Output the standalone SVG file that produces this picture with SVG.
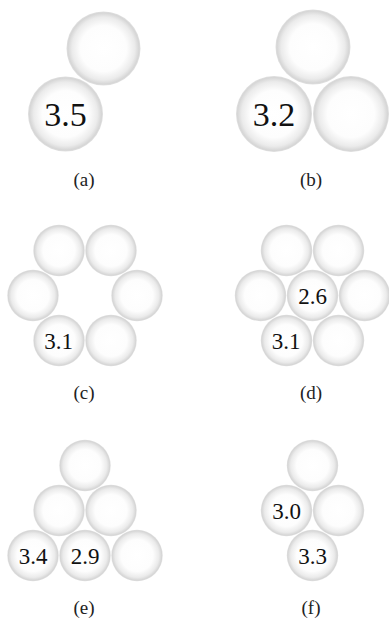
<svg xmlns="http://www.w3.org/2000/svg" width="389" height="620" viewBox="0 0 389 620">
<defs>
<radialGradient id="ball" cx="50%" cy="50%" r="50%">
<stop offset="0" stop-color="#ffffff"/>
<stop offset="0.62" stop-color="#fdfdfd"/>
<stop offset="0.85" stop-color="#ebebeb"/>
<stop offset="0.96" stop-color="#d6d6d6"/>
<stop offset="1" stop-color="#e0e0e0"/>
</radialGradient>
</defs>
<style>
circle{fill:url(#ball);}
text{font-family:"Liberation Serif",serif;text-anchor:middle;}
.n{fill:#111;}
.big{font-size:34px;}
.sm{font-size:23px;}
.cap{font-size:19px;fill:#222;}
</style>
<rect width="389" height="620" fill="#ffffff"/>
<g id="panel-a">
<circle cx="103.5" cy="48.5" r="37"/>
<circle cx="65.5" cy="114" r="37.5"/>
<text class="n big" x="65.5" y="126">3.5</text>
<text class="cap" x="84" y="186">(a)</text>
</g>
<g id="panel-b">
<circle cx="313" cy="47" r="37.5"/>
<circle cx="274" cy="114" r="38"/>
<circle cx="351" cy="114" r="38"/>
<text class="n big" x="274" y="126">3.2</text>
<text class="cap" x="311" y="186">(b)</text>
</g>
<g id="panel-c">
<circle cx="59" cy="250.5" r="25.7"/>
<circle cx="111" cy="250.5" r="25.7"/>
<circle cx="33" cy="295.5" r="25.7"/>
<circle cx="137" cy="295.5" r="25.7"/>
<circle cx="59" cy="340.5" r="25.7"/>
<circle cx="111" cy="340.5" r="25.7"/>
<text class="n sm" x="58.5" y="349">3.1</text>
<text class="cap" x="84" y="399">(c)</text>
</g>
<g id="panel-d">
<circle cx="286.5" cy="250.5" r="25.7"/>
<circle cx="338.5" cy="250.5" r="25.7"/>
<circle cx="260.5" cy="295.5" r="25.7"/>
<circle cx="312.5" cy="295.5" r="25.7"/>
<circle cx="364.5" cy="295.5" r="25.7"/>
<circle cx="286.5" cy="340.5" r="25.7"/>
<circle cx="338.5" cy="340.5" r="25.7"/>
<text class="n sm" x="312.5" y="304">2.6</text>
<text class="n sm" x="286" y="349">3.1</text>
<text class="cap" x="311" y="399">(d)</text>
</g>
<g id="panel-e">
<circle cx="85" cy="465.5" r="25.7"/>
<circle cx="59" cy="510.5" r="25.7"/>
<circle cx="111" cy="510.5" r="25.7"/>
<circle cx="33" cy="555.5" r="25.7"/>
<circle cx="85" cy="555.5" r="25.7"/>
<circle cx="137" cy="555.5" r="25.7"/>
<text class="n sm" x="33" y="564">3.4</text>
<text class="n sm" x="85" y="564">2.9</text>
<text class="cap" x="84" y="614">(e)</text>
</g>
<g id="panel-f">
<circle cx="312.5" cy="465.5" r="25.7"/>
<circle cx="286.5" cy="510.5" r="25.7"/>
<circle cx="338.5" cy="510.5" r="25.7"/>
<circle cx="312.5" cy="555.5" r="25.7"/>
<text class="n sm" x="286.5" y="519">3.0</text>
<text class="n sm" x="312.5" y="564">3.3</text>
<text class="cap" x="311" y="614">(f)</text>
</g>
</svg>
